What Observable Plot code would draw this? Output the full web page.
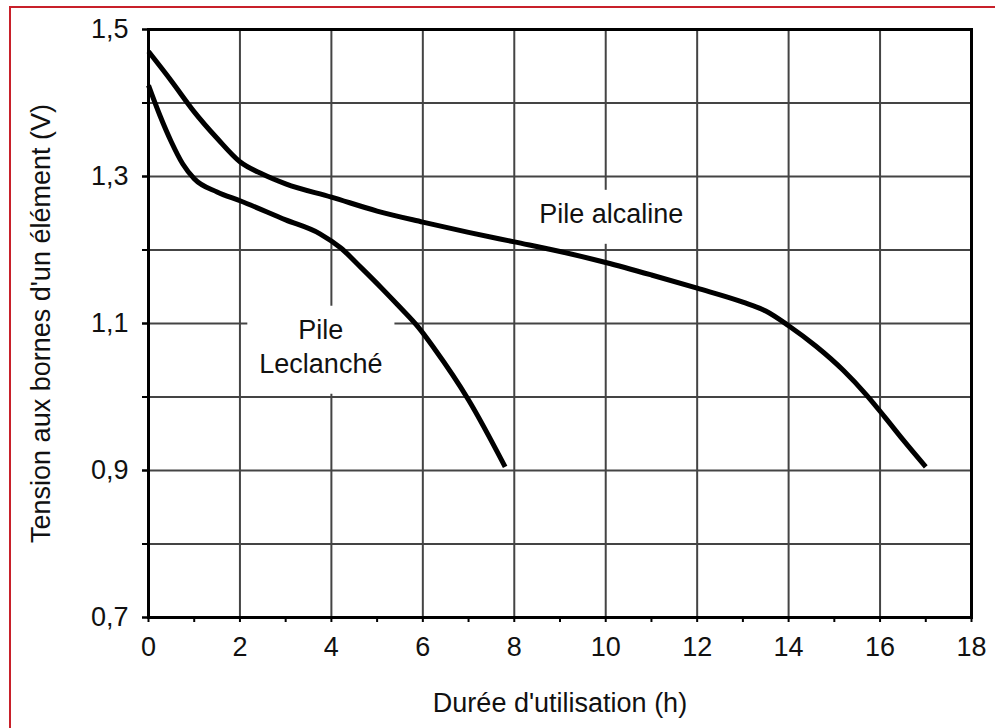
<!DOCTYPE html>
<html>
<head>
<meta charset="utf-8">
<script src="https://cdn.jsdelivr.net/npm/d3@7"></script>
<script src="https://cdn.jsdelivr.net/npm/@observablehq/plot@0.6"></script>
<style>
  html, body { margin: 0; padding: 0; background: white; }
  #wrap { position: relative; width: 995px; height: 728px; overflow: hidden; }
  #border { position: absolute; left: 9px; top: 6px; right: -10px; bottom: -10px;
            border-left: 2px solid #c8202a; border-top: 2px solid #c8202a; pointer-events: none; }
</style>
</head>
<body>
<div id="wrap"><div id="border"></div></div>
<script>
// ---- data ----
const alcalineX = [0, 0.5, 1, 1.5, 2, 2.5, 3, 4, 5, 6, 7, 8, 9, 10, 11, 12, 13, 13.5, 14, 14.6, 15.2, 15.7, 16.1, 16.5, 17];
const alcalineY = [1.470, 1.430, 1.388, 1.352, 1.320, 1.303, 1.290, 1.272, 1.253, 1.238, 1.224, 1.211, 1.198, 1.183, 1.166, 1.148, 1.129, 1.117, 1.097, 1.069, 1.036, 1.003, 0.973, 0.942, 0.905];

const leclancheX = [0, 0.25, 0.5, 0.75, 1, 1.5, 2, 3, 3.75, 4.2, 4.65, 5.1, 5.5, 5.9, 6.25, 7, 7.8];
const leclancheY = [1.424, 1.383, 1.347, 1.317, 1.297, 1.279, 1.267, 1.241, 1.222, 1.203, 1.176, 1.148, 1.122, 1.095, 1.066, 0.996, 0.905];

const xTicks = [0, 2, 4, 6, 8, 10, 12, 14, 16, 18];
const xMinor = [1, 3, 5, 7, 9, 11, 13, 15, 17];
const yGrid = [0.7, 0.8, 0.9, 1.0, 1.1, 1.2, 1.3, 1.4, 1.5];
const yLabels = [0.7, 0.9, 1.1, 1.3, 1.5];

const labelTexts = ["Pile alcaline", "Pile\nLeclanché"];
const labelX = [10.12, 3.77];
const labelY = [1.237, 1.033];

const xTitle = "Durée d'utilisation (h)";
const yTitle = "Tension aux bornes d'un élément (V)";

const alcaline = alcalineX.map((x, i) => ({x, y: alcalineY[i]}));
const leclanche = leclancheX.map((x, i) => ({x, y: leclancheY[i]}));
const labels = labelTexts.map((t, i) => ({t, x: labelX[i], y: labelY[i]}));

const fmt = d => d.toFixed(1).replace(".", ",");

const chart = Plot.plot({
  width: 995,
  height: 728,
  marginLeft: 148,
  marginRight: 24,
  marginTop: 29,
  marginBottom: 111,
  x: {domain: [0, 18]},
  y: {domain: [0.7, 1.5]},
  style: {fontFamily: "'Liberation Sans', Arial, sans-serif", fontSize: "27px", color: "#111", background: "transparent"},
  marks: [
    Plot.ruleX(xTicks, {stroke: "#444", strokeWidth: 2}),
    Plot.ruleY(yGrid, {stroke: "#444", strokeWidth: 2}),
    Plot.text(labels, {x: "x", y: "y", text: "t", lineAnchor: "bottom", lineHeight: 1.26, fill: "#111", fontSize: 27}),
    Plot.line(alcaline, {x: "x", y: "y", curve: "monotone-x", stroke: "black", strokeWidth: 5, strokeLinecap: "butt"}),
    Plot.line(leclanche, {x: "x", y: "y", curve: "monotone-x", stroke: "black", strokeWidth: 5, strokeLinecap: "butt"}),
    Plot.frame({stroke: "black", strokeWidth: 3}),
    Plot.axisY({ticks: yGrid, tickSize: 6, tickFormat: () => "", label: null, strokeWidth: 2, stroke: "black"}),
    Plot.axisY({ticks: yLabels, tickSize: 6, tickPadding: 14, tickFormat: fmt, label: null, strokeWidth: 2, stroke: "black"}),
    Plot.axisX({ticks: xTicks, tickSize: 5, tickPadding: 14, label: null, strokeWidth: 2, stroke: "black"}),
    Plot.axisX({ticks: xMinor, tickSize: 5, tickFormat: () => "", label: null, strokeWidth: 2, stroke: "black"}),
    Plot.text([xTitle], {frameAnchor: "bottom", text: d => d, textAnchor: "middle", lineAnchor: "bottom", dy: 94, fill: "#111", fontSize: 27}),
    Plot.text([yTitle], {frameAnchor: "left", text: d => d, textAnchor: "middle", rotate: -90, lineAnchor: "middle", dx: -107, fill: "#111", fontSize: 27})
  ]
});

document.getElementById("wrap").append(chart);

// white boxes behind annotation texts (masking grid lines, as in the reference)
const wanted = new Set(labelTexts.map(t => t.replace(/\n/g, "")));
chart.querySelectorAll("text").forEach(t => {
  if (!wanted.has(t.textContent)) return;
  const b = t.getBBox();
  const r = document.createElementNS("http://www.w3.org/2000/svg", "rect");
  r.setAttribute("x", b.x - 12);
  r.setAttribute("y", b.y - 9);
  r.setAttribute("width", b.width + 24);
  r.setAttribute("height", b.height + 24);
  r.setAttribute("fill", "white");
  r.setAttribute("stroke", "none");
  const tr = t.getAttribute("transform");
  if (tr) r.setAttribute("transform", tr);
  t.parentNode.insertBefore(r, t);
});
</script>
</body>
</html>
